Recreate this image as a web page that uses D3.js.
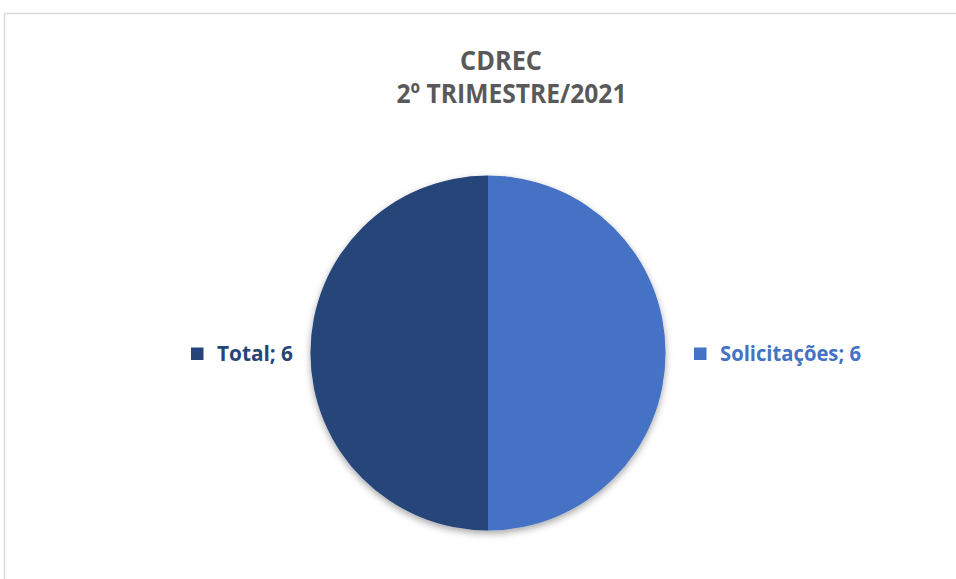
<!DOCTYPE html>
<meta charset="utf-8">
<style>
  body { margin: 0; background: #fff; }
  svg { display: block; font-family: "Open Sans", Lato, sans-serif; }
  .title { fill: #595959; font-weight: bold; font-size: 27px; }
  .lbl { font-weight: bold; font-size: 21px; }
</style>
<body></body>
<script src="https://cdnjs.cloudflare.com/ajax/libs/d3/7.8.5/d3.min.js"></script>
<script>

// data
var categories = ["Solicitações", "Total"];
var values = [6, 6];
var colors = ["#4472C4", "#264478"];
var titleLines = ["CDREC", "2º TRIMESTRE/2021"];

var w = 956, h = 579;
var cx = 488, cy = 353, r = 177.5;

var svg = d3.select("body").append("svg")
    .attr("width", w)
    .attr("height", h);

// soft shadow like excel
var defs = svg.append("defs");
var f = defs.append("filter").attr("id", "shadow")
    .attr("x", "-20%").attr("y", "-20%").attr("width", "140%").attr("height", "140%");
f.append("feDropShadow")
    .attr("dx", 0).attr("dy", 3)
    .attr("stdDeviation", 3.5)
    .attr("flood-color", "#000")
    .attr("flood-opacity", 0.35);

// chart area border (only top and left show)
svg.append("rect")
    .attr("x", 4.5).attr("y", 13.5)
    .attr("width", 1000).attr("height", 700)
    .attr("fill", "#fff")
    .attr("stroke", "#d9d9d9")
    .attr("stroke-width", 1.5);

// title
var titleX = [501, 511.5], titleY = [69.5, 103], titleW = [82, 230];
svg.selectAll("text.title")
    .data(titleLines)
    .enter().append("text")
    .attr("class", "title")
    .attr("x", function(d, i) { return titleX[i]; })
    .attr("y", function(d, i) { return titleY[i]; })
    .attr("text-anchor", "middle")
    .attr("textLength", function(d, i) { return titleW[i]; })
    .attr("lengthAdjust", "spacingAndGlyphs")
    .text(function(d) { return d; });

var pie = d3.pie().sort(null).value(function(d) { return d; });
var arc = d3.arc().innerRadius(0).outerRadius(r);
var arcs = pie(values);

var g = svg.append("g")
    .attr("transform", "translate(" + cx + "," + cy + ")");

g.append("g").attr("filter", "url(#shadow)")
  .selectAll("path")
    .data(arcs)
    .enter().append("path")
    .attr("d", arc)
    .attr("fill", function(d, i) { return colors[i]; });

// outside labels with a little square marker
var lblW = [141, 76];
var labels = g.selectAll("g.lbl")
    .data(arcs)
    .enter().append("g")
    .attr("class", "lbl");

labels.each(function(d, i) {
    var sel = d3.select(this);
    var c = arc.centroid(d);
    var right = c[0] > 0;
    var txt = categories[i] + "; " + d.data;
    var tw = lblW[i];
    var x0 = right ? r + 28.5 : -r - 19 - tw - 24.5;
    sel.append("rect")
        .attr("x", x0)
        .attr("y", -5.5)
        .attr("width", 12.5)
        .attr("height", 12.5)
        .attr("fill", colors[i]);
    sel.append("text")
        .attr("x", x0 + 26)
        .attr("y", 7.5)
        .attr("fill", colors[i])
        .attr("textLength", tw)
        .attr("lengthAdjust", "spacingAndGlyphs")
        .text(txt);
});

</script>
